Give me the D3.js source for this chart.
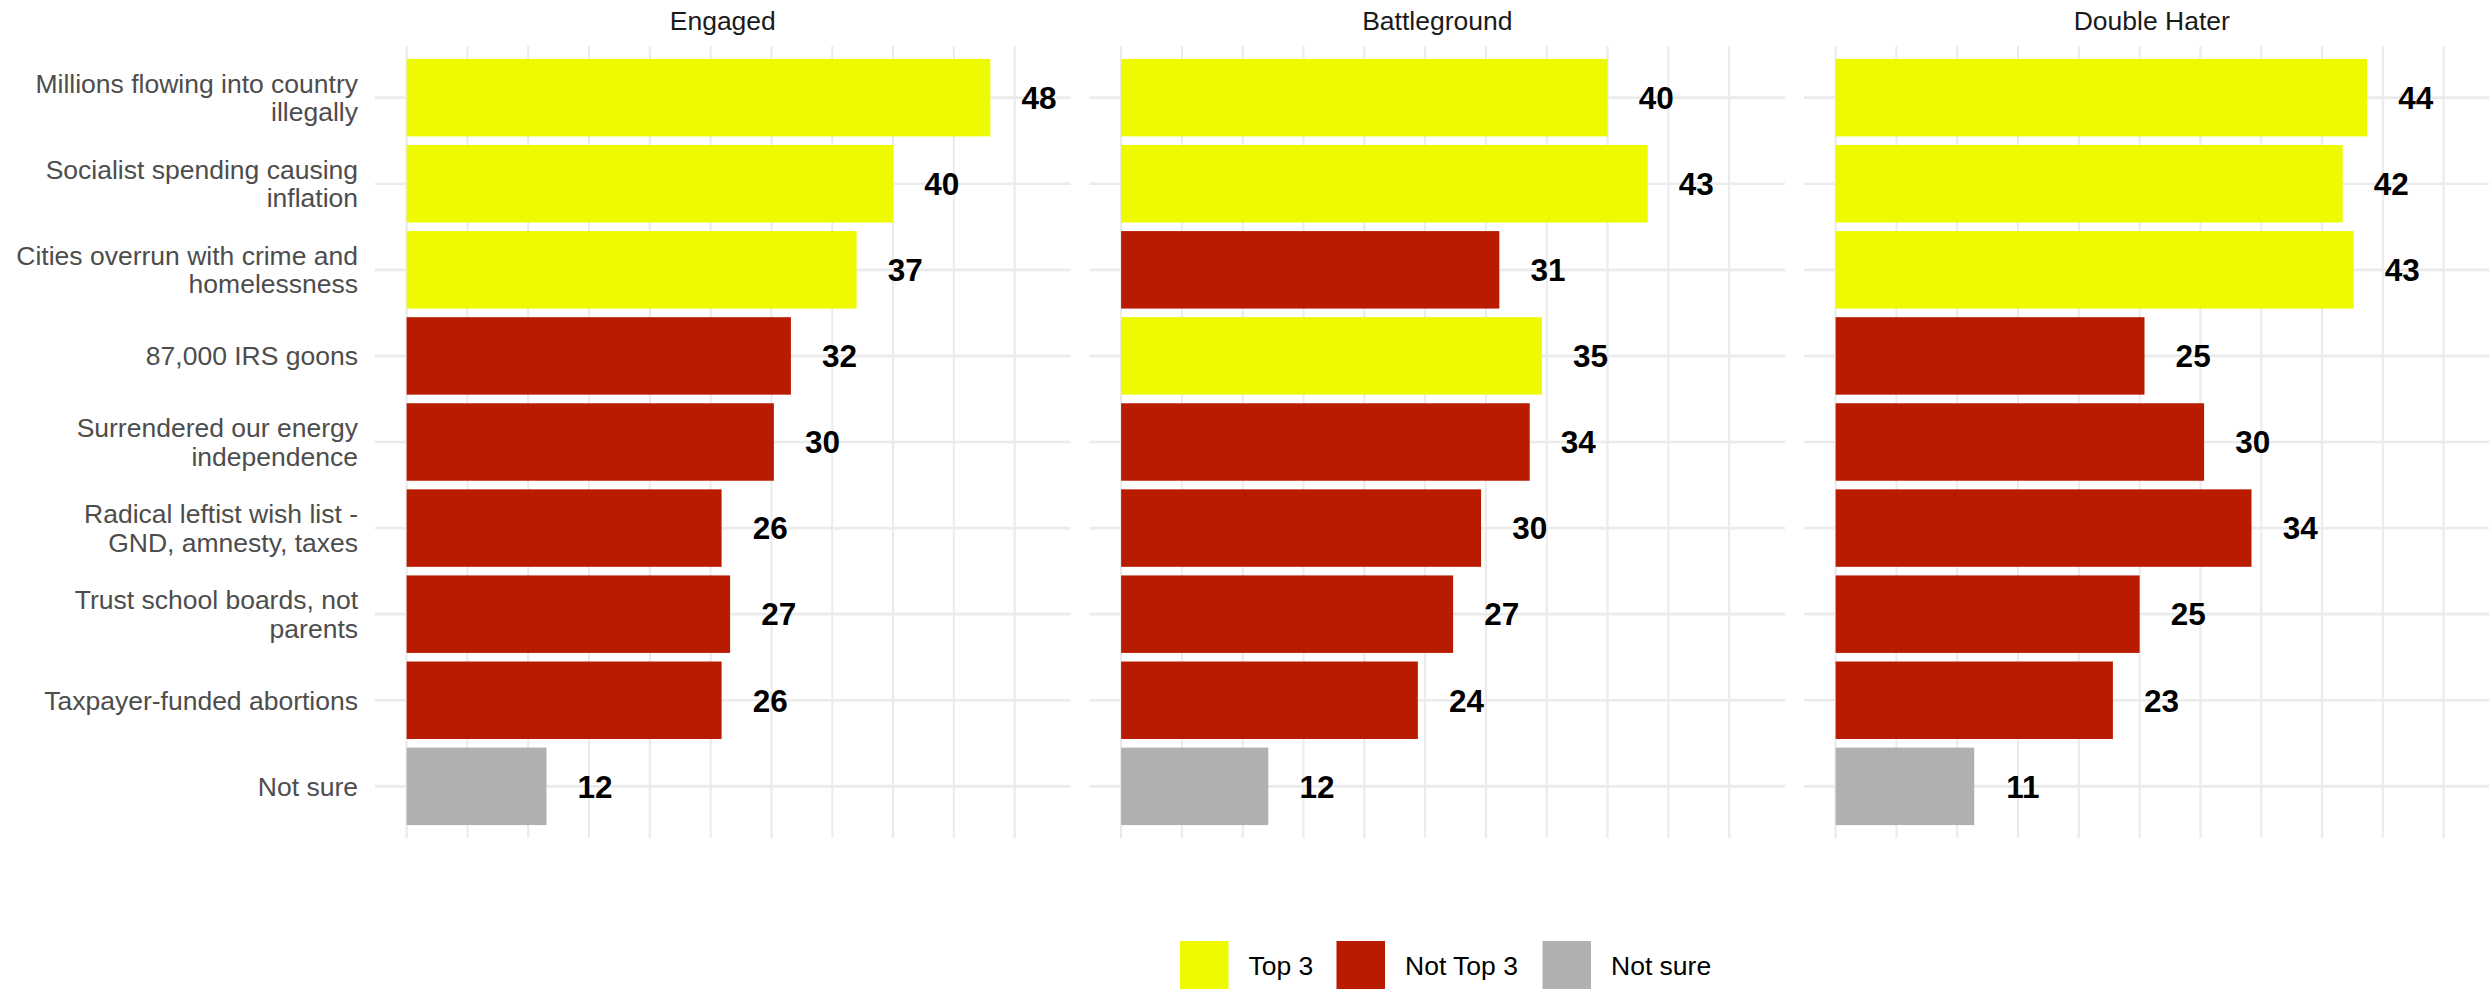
<!DOCTYPE html>
<html>
<head>
<meta charset="utf-8">
<script src="https://cdn.jsdelivr.net/npm/d3@7"></script>
<style>
  html, body { margin: 0; padding: 0; background: #ffffff; }
  svg { display: block; font-family: "Liberation Sans", Arial, Helvetica, sans-serif; }
</style>
</head>
<body>
<svg id="chart" width="2489" height="989"></svg>
<script>
// ---------------- DATA ----------------
const categories = [
  "Millions flowing into country illegally",
  "Socialist spending causing inflation",
  "Cities overrun with crime and homelessness",
  "87,000 IRS goons",
  "Surrendered our energy independence",
  "Radical leftist wish list - GND, amnesty, taxes",
  "Trust school boards, not parents",
  "Taxpayer-funded abortions",
  "Not sure"
];
const categoryLines = [
  ["Millions flowing into country", "illegally"],
  ["Socialist spending causing", "inflation"],
  ["Cities overrun with crime and", "homelessness"],
  ["87,000 IRS goons"],
  ["Surrendered our energy", "independence"],
  ["Radical leftist wish list -", "GND, amnesty, taxes"],
  ["Trust school boards, not", "parents"],
  ["Taxpayer-funded abortions"],
  ["Not sure"]
];
const panels = ["Engaged", "Battleground", "Double Hater"];
const engaged      = [48.0, 40.0, 37.0, 31.6, 30.2, 25.9, 26.6, 25.9, 11.5];
const battleground = [40.0, 43.3, 31.1, 34.6, 33.6, 29.6, 27.3, 24.4, 12.1];
const doubleHater  = [43.7, 41.7, 42.6, 25.4, 30.3, 34.2, 25.0, 22.8, 11.4];
const seriesValues = [engaged, battleground, doubleHater];
const groups = ["Top 3", "Not Top 3", "Not sure"];
const gridTicks = [0, 5, 10, 15, 20, 25, 30, 35, 40, 45, 50];

// ---------------- STYLE ----------------
const colors = { "Top 3": "#EEFA00", "Not Top 3": "#B91B00", "Not sure": "#B0B0B0" };
const W = 2489, H = 989;
const panelLefts = [375, 1089.5, 1804];
const panelWidth = 695.6;
const panelTop = 46, panelBottom = 838;
const fs = 26.5;            // axis / strip / legend text size
const labelFs = 31.5;       // value label size
const lineGap = 28.4;

const svg = d3.select("#chart");

const labelOffset = 4;
const maxVal = d3.max(seriesValues.flat()) + labelOffset;
const xDomain = [-0.05 * Math.ceil(maxVal), Math.ceil(maxVal) * 1.05];

const y = d3.scaleBand()
  .domain(categories)
  .range([panelTop, panelBottom])
  .paddingInner(0.1)
  .paddingOuter(0.15);
const yc = c => y(c) + y.bandwidth() / 2;

function groupOf(values) {
  const ranked = values
    .map((v, i) => ({ v, i }))
    .filter(d => categories[d.i] !== "Not sure")
    .sort((a, b) => b.v - a.v)
    .slice(0, 3)
    .map(d => d.i);
  return values.map((v, i) => categories[i] === "Not sure" ? "Not sure" : (ranked.includes(i) ? "Top 3" : "Not Top 3"));
}

panels.forEach((p, pi) => {
  const x = d3.scaleLinear().domain(xDomain).range([panelLefts[pi], panelLefts[pi] + panelWidth]);
  const g = svg.append("g");
  const vals = seriesValues[pi];
  const grp = groupOf(vals);

  // vertical gridlines
  g.selectAll("line.v").data(gridTicks).join("line")
    .attr("x1", d => x(d)).attr("x2", d => x(d))
    .attr("y1", panelTop).attr("y2", panelBottom)
    .attr("stroke", "#EBEBEB").attr("stroke-width", d => d % 10 === 0 ? 2.2 : 2);

  // horizontal gridlines
  g.selectAll("line.h").data(categories).join("line")
    .attr("x1", x.range()[0]).attr("x2", x.range()[1])
    .attr("y1", d => yc(d)).attr("y2", d => yc(d))
    .attr("stroke", "#EBEBEB").attr("stroke-width", 2.6);

  // bars
  g.selectAll("rect.bar").data(categories).join("rect")
    .attr("x", x(0))
    .attr("y", d => y(d))
    .attr("width", (d, i) => x(vals[i]) - x(0))
    .attr("height", y.bandwidth())
    .attr("fill", (d, i) => colors[grp[i]]);

  // value labels
  g.selectAll("text.val").data(categories).join("text")
    .attr("x", (d, i) => x(vals[i] + labelOffset))
    .attr("y", d => yc(d) + labelFs * 0.358)
    .attr("text-anchor", "middle")
    .attr("font-weight", "bold")
    .attr("font-size", labelFs)
    .attr("fill", "#000000")
    .text((d, i) => d3.format(".0f")(vals[i]));

  // strip title
  g.append("text")
    .attr("x", (x.range()[0] + x.range()[1]) / 2)
    .attr("y", 29.5)
    .attr("text-anchor", "middle")
    .attr("font-size", fs)
    .attr("fill", "#1A1A1A")
    .text(p);

  // y axis labels (first panel only)
  if (pi === 0) {
    const ax = svg.append("g");
    categories.forEach((c, ci) => {
      const lines = categoryLines[ci];
      const t = ax.append("text")
        .attr("text-anchor", "end")
        .attr("font-size", fs)
        .attr("fill", "#4D4D4D");
      lines.forEach((ln, li) => {
        t.append("tspan")
          .attr("x", 358)
          .attr("y", yc(c) + (li - (lines.length - 1) / 2) * lineGap + fs * 0.355)
          .text(ln);
      });
    });
  }
});

// legend
const legendKeys = [1180, 1336.5, 1542.5];
const legendTextX = [1248.5, 1405, 1611];
const keySize = 48.5;
const lg = svg.append("g");
groups.forEach((gname, i) => {
  lg.append("rect")
    .attr("x", legendKeys[i]).attr("y", 941)
    .attr("width", keySize).attr("height", keySize)
    .attr("fill", colors[gname]);
  lg.append("text")
    .attr("x", legendTextX[i]).attr("y", 965.5 + fs * 0.355)
    .attr("font-size", fs)
    .attr("fill", "#000000")
    .text(gname);
});
</script>
</body>
</html>
